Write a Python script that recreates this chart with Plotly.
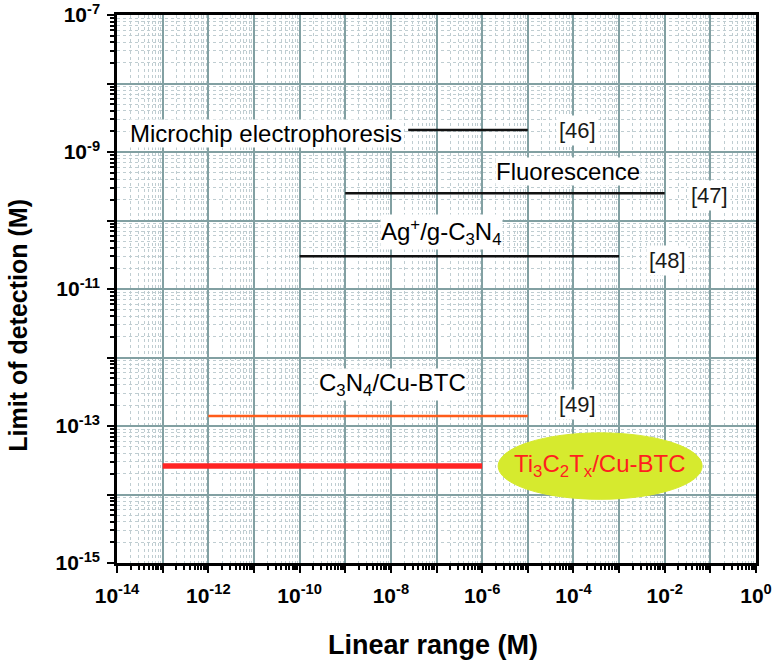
import plotly.graph_objects as go

# ---- data ----
methods = ["Microchip electrophoresis", "Fluorescence", "Ag+/g-C3N4", "C3N4/Cu-BTC", "Ti3C2Tx/Cu-BTC"]
range_low = [2.4e-8, 1e-9, 1e-10, 1e-12, 1e-13]
range_high = [1e-5, 1e-2, 1e-3, 1e-5, 1e-6]
lod = [2.1e-9, 2.5e-10, 3.0e-11, 1.4e-13, 2.6e-14]
refs = ["[46]", "[47]", "[48]", "[49]", ""]

x_exps = list(range(-14, 1))
y_exps = list(range(-15, -6))
x_labeled = [-14, -12, -10, -8, -6, -4, -2, 0]
y_labeled = [-15, -13, -11, -9, -7]

line_colors = ["#111111", "#111111", "#111111", "#ff5c1a", "#ff2424"]
line_widths = [2.5, 2.5, 2.5, 2.5, 5.5]

fig = go.Figure()
for m, lo, hi, v, c, w in zip(methods, range_low, range_high, lod, line_colors, line_widths):
    fig.add_trace(go.Scatter(x=[lo, hi], y=[v, v], mode="lines", name=m,
                             line=dict(color=c, width=w), showlegend=False))

def minor_vals(exps):
    out = []
    for e in exps[:-1]:
        for k in range(2, 10):
            out.append(k * 10.0 ** e)
    return out

def tick_text(exps, labeled):
    return ["<b>10<sup>%d</sup></b>" % e if e in labeled else "" for e in exps]

GRID = "#82a0a2"
MINOR = "#bfcdd1"
FONT = "Liberation Sans, Arial, sans-serif"

axis_common = dict(
    type="log", showline=True, linecolor="black", linewidth=2.5, mirror=True,
    ticks="outside", ticklen=7, tickwidth=2, tickcolor="black",
    showgrid=True, gridcolor=GRID, gridwidth=1.5, zeroline=False, automargin=False,
    ticklabeloverflow="allow",
    tickfont=dict(family=FONT, size=21, color="black"),
)

fig.update_xaxes(
    **axis_common, range=[-14, 0],
    tickmode="array", tickvals=[10.0 ** e for e in x_exps], ticktext=tick_text(x_exps, x_labeled),
    ticklabelstandoff=5,
    minor=dict(tickmode="array", tickvals=minor_vals(x_exps), ticks="outside", ticklen=4,
               tickwidth=1.5, tickcolor="black", showgrid=True, gridcolor=MINOR,
               griddash="dot", gridwidth=1),
)
fig.update_yaxes(
    **axis_common, range=[-15, -7],
    tickmode="array", tickvals=[10.0 ** e for e in y_exps], ticktext=tick_text(y_exps, y_labeled),
    ticklabelstandoff=3,
    minor=dict(tickmode="array", tickvals=minor_vals(y_exps), ticks="outside", ticklen=4,
               tickwidth=1.5, tickcolor="black", showgrid=True, gridcolor=MINOR,
               griddash="dot", gridwidth=1),
)

annotations = [
    dict(x=-7.73, y=-8.73, text="Microchip electrophoresis", xanchor="right"),
    dict(x=-4.12, y=-9.29, text="Fluorescence"),
    dict(x=-6.88, y=-10.17, text="Ag<sup>+</sup>/g-C<sub>3</sub>N<sub>4</sub>"),
    dict(x=-7.97, y=-12.40, text="C<sub>3</sub>N<sub>4</sub>/Cu-BTC"),
]
for a in annotations:
    a.update(xref="x", yref="y", showarrow=False, bgcolor="white", borderpad=0,
             font=dict(family=FONT, size=24, color="black"))

ref_pos = [(-3.90, -8.68), (-1.01, -9.63), (-1.93, -10.58), (-3.90, -12.69)]
for r, (px, py) in zip(refs, ref_pos):
    if r:
        annotations.append(dict(x=px, y=py, text=r, xref="x", yref="y", showarrow=False,
                                bgcolor="white", borderpad=2,
                                font=dict(family=FONT, size=22, color="#1a1a1a")))

annotations.append(dict(x=-3.42, y=-13.58, xref="x", yref="y", showarrow=False,
                        text="Ti<sub>3</sub>C<sub>2</sub>T<sub>x</sub>/Cu-BTC",
                        font=dict(family=FONT, size=24, color="#ff1f1f")))

# axis titles
annotations.append(dict(x=0.495, y=-0.15, xref="paper", yref="paper", showarrow=False,
                        text="<b>Linear range (M)</b>", yanchor="middle",
                        font=dict(family=FONT, size=27, color="black")))
annotations.append(dict(x=-0.154, y=0.434, xref="paper", yref="paper", showarrow=False,
                        text="<b>Limit of detection (M)</b>", textangle=-90,
                        xanchor="center", yanchor="middle",
                        font=dict(family=FONT, size=25, color="black")))

fig.update_layout(
    width=774, height=664,
    margin=dict(l=117, r=18, t=15, b=101),
    paper_bgcolor="white", plot_bgcolor="white",
    annotations=annotations,
    shapes=[dict(type="circle", xref="x", yref="y",
                 x0=10 ** -5.65, x1=10 ** -1.18, y0=10 ** -13.10, y1=10 ** -14.07,
                 fillcolor="#d6ea2e", line=dict(color="#d6ea2e", width=1), layer="above")],
)

fig.write_html("out.html", config={"displayModeBar": False},
               post_script="document.body.style.margin='0';document.body.style.overflow='hidden';")
